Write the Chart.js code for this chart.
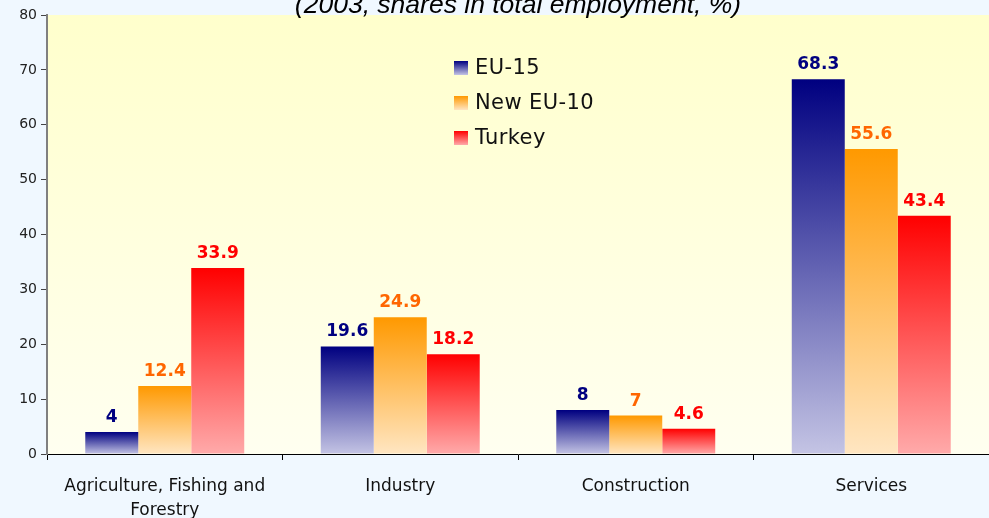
<!DOCTYPE html>
<html>
<head>
<meta charset="utf-8">
<script src="https://cdn.jsdelivr.net/npm/chart.js@4"></script>
<style>
  html, body { margin: 0; padding: 0; background: #f0f8ff; }
  #wrap { width: 989px; height: 518px; }
</style>
</head>
<body>
<div id="wrap"><canvas id="chart" width="989" height="518"></canvas></div>
<script>
// data
const categories = [["Agriculture, Fishing and", "Forestry"], "Industry", "Construction", "Services"];
const seriesNames = ["EU-15", "New EU-10", "Turkey"];
const eu15 = [4, 19.6, 8, 68.3];
const newEu10 = [12.4, 24.9, 7, 55.6];
const turkey = [33.9, 18.2, 4.6, 43.4];
const yTicks = [0, 10, 20, 30, 40, 50, 60, 70, 80];
const titleText = "(2003, shares in total employment, %)";

// colours: top of bar, bottom of bar, label
const shades = [
  ["#000080", "#c4c4e4", "#000080"],
  ["#ff9900", "#ffe6c2", "#ff6600"],
  ["#ff0000", "#ffaaaa", "#ff0000"]
];

// vertical gradient per bar
function barFill(i) {
  return function (c) {
    const chart = c.chart;
    if (!chart.chartArea || c.type !== "data") return shades[i][0];
    const y = chart.scales.y;
    const top = y.getPixelForValue(c.raw);
    const bottom = y.getPixelForValue(0);
    const g = chart.ctx.createLinearGradient(0, top, 0, bottom);
    g.addColorStop(0, shades[i][0]);
    g.addColorStop(1, shades[i][1]);
    return g;
  };
}

// plot background + title
const backdrop = {
  id: "backdrop",
  beforeDraw(chart) {
    const { ctx, chartArea: a } = chart;
    ctx.save();
    const g = ctx.createLinearGradient(0, a.top, 0, a.bottom);
    g.addColorStop(0, "#ffffcc");
    g.addColorStop(1, "#fffff0");
    ctx.fillStyle = g;
    ctx.fillRect(a.left, a.top, a.right - a.left, a.bottom - a.top);
    ctx.restore();
  },
  afterDraw(chart) {
    const { ctx, chartArea: a } = chart;
    ctx.save();
    ctx.font = "italic 26.5px 'Liberation Sans', Arial, sans-serif";
    ctx.fillStyle = "#000";
    ctx.textAlign = "center";
    ctx.textBaseline = "alphabetic";
    ctx.fillText(titleText, (a.left + a.right) / 2, 13);
    ctx.restore();
  }
};

// value labels above the bars
const valueLabels = {
  id: "valueLabels",
  afterDatasetsDraw(chart) {
    const ctx = chart.ctx;
    ctx.save();
    ctx.font = "bold 17px 'DejaVu Sans', sans-serif";
    ctx.textAlign = "center";
    ctx.textBaseline = "alphabetic";
    chart.data.datasets.forEach((ds, i) => {
      const meta = chart.getDatasetMeta(i);
      ctx.fillStyle = shades[i][2];
      meta.data.forEach((bar, j) => {
        ctx.fillText(String(ds.data[j]), bar.x, bar.y - 10);
      });
    });
    ctx.restore();
  }
};

// legend inside the plot
const boxLegend = {
  id: "boxLegend",
  afterDraw(chart) {
    const ctx = chart.ctx;
    ctx.save();
    ctx.font = "21px 'DejaVu Sans', sans-serif";
    ctx.letterSpacing = "0.4px";
    ctx.textBaseline = "middle";
    ctx.textAlign = "left";
    chart.data.datasets.forEach((ds, i) => {
      const cy = 68 + i * 35;
      const g = ctx.createLinearGradient(0, cy - 7, 0, cy + 7);
      g.addColorStop(0, shades[i][0]);
      g.addColorStop(1, shades[i][1]);
      ctx.fillStyle = g;
      ctx.fillRect(454, cy - 7, 14, 14);
      ctx.fillStyle = "#111";
      ctx.fillText(ds.label, 475, cy + 1);
    });
    ctx.restore();
  }
};

new Chart(document.getElementById("chart"), {
  type: "bar",
  data: {
    labels: categories,
    datasets: [
      { label: seriesNames[0], data: eu15, backgroundColor: barFill(0) },
      { label: seriesNames[1], data: newEu10, backgroundColor: barFill(1) },
      { label: seriesNames[2], data: turkey, backgroundColor: barFill(2) }
    ]
  },
  options: {
    responsive: false,
    animation: false,
    layout: { padding: { top: 15, left: 0, right: 0, bottom: 0 } },
    datasets: { bar: { categoryPercentage: 0.675, barPercentage: 1.0 } },
    plugins: {
      legend: { display: false },
      title: { display: false },
      tooltip: { enabled: false }
    },
    scales: {
      x: {
        afterFit(s) { s.height = 64; },
        border: { color: "#000", width: 1 },
        grid: { drawOnChartArea: false, tickLength: 6, color: "#000" },
        ticks: {
          color: "#111",
          padding: 14,
          maxRotation: 0,
          autoSkip: false,
          font: { family: "'DejaVu Sans', sans-serif", size: 17, lineHeight: 1.45 }
        }
      },
      y: {
        min: yTicks[0],
        max: yTicks[yTicks.length - 1],
        afterFit(s) { s.width = 47; },
        afterBuildTicks(s) { s.ticks = yTicks.map(v => ({ value: v })); },
        border: { color: "#808080", width: 2 },
        grid: { drawOnChartArea: false, tickLength: 6, color: "#444" },
        ticks: {
          color: "#222",
          padding: 4,
          font: { family: "'DejaVu Sans', sans-serif", size: 14 }
        }
      }
    }
  },
  plugins: [backdrop, valueLabels, boxLegend]
});
</script>
</body>
</html>
